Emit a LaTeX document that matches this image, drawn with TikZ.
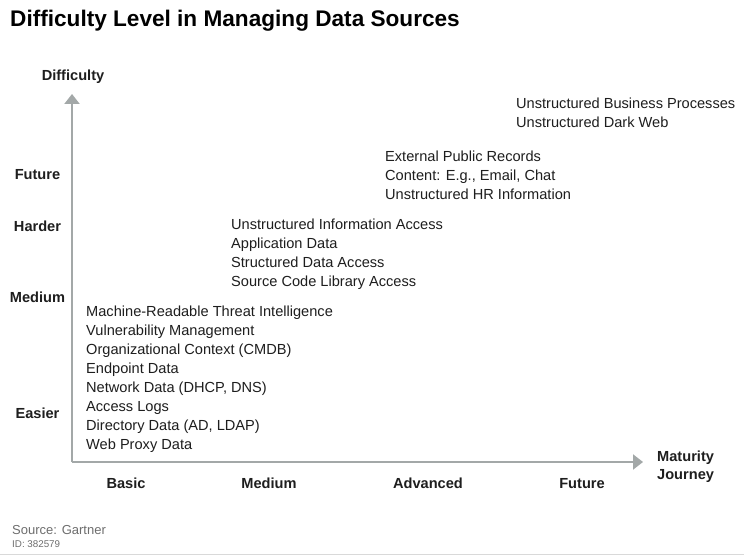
\documentclass[tikz,border=0pt]{standalone}
\usepackage{fontspec}
\setmainfont{Liberation Sans}
\usetikzlibrary{arrows.meta}
\definecolor{axisgray}{HTML}{A3A8A8}
\definecolor{txt}{HTML}{1E1E1E}
\definecolor{srcgray}{HTML}{6E6E6E}
\definecolor{rulegray}{HTML}{D9D9D9}
\begin{document}
\begin{tikzpicture}[x=1pt,y=-1pt,
  body/.style={font=\fontsize{14.6}{19}\selectfont, text=txt, inner sep=0pt, align=left, anchor=west},
  axlab/.style={font=\fontsize{14.6}{18}\selectfont\bfseries, text=txt, inner sep=0pt},
  axisline/.style={draw=axisgray, line width=2pt, -{Triangle[width=15pt,length=10pt]}}]
\useasboundingbox (0,0) rectangle (744,556);
\fill[white] (0,0) rectangle (744,556);
\draw[rulegray, line width=1.5pt] (0,554.5) -- (744,554.5);

\node[font=\fontsize{22.6}{26}\selectfont\bfseries, text=black, inner sep=0pt, anchor=west] (title) at (10,20.5) {Difficulty Level in Managing Data Sources};

\coordinate (origin) at (72,462);
\coordinate (ytip) at (72,94);
\coordinate (xtip) at (643,462);
\draw[axisline] (origin) -- (ytip);
\draw[axisline] (origin) -- (xtip);

\node[axlab] (ytitle) at (73,77) {Difficulty};
\node[axlab, align=left, anchor=west] (xtitle) at (657,466.5) {Maturity\\[0.5pt]Journey};

\node[axlab] (yfuture) at (37.5,175) {Future};
\node[axlab] (yharder) at (37.5,226) {Harder};
\node[axlab] (ymedium) at (37.5,297) {Medium};
\node[axlab] (yeasier) at (37.5,413) {Easier};

\node[axlab] (xbasic) at (126,483.5) {Basic};
\node[axlab] (xmedium) at (269,483.5) {Medium};
\node[axlab] (xadvanced) at (428,483.5) {Advanced};
\node[axlab] (xfuture) at (582,483.5) {Future};

\node[body] (blockA) at (86,379.5) {Machine-Readable Threat Intelligence\\
Vulnerability Management\\
Organizational Context (CMDB)\\
Endpoint Data\\
Network Data (DHCP, DNS)\\
Access Logs\\
Directory Data (AD, LDAP)\\
Web Proxy Data};

\node[body] (blockB) at (231,254.5) {Unstructured Information Access\\
Application Data\\
Structured Data Access\\
Source Code Library Access};

\node[body] (blockC) at (385,175.5) {External Public Records\\
Content: E.g., Email, Chat\\
Unstructured HR Information};

\node[body] (blockD) at (516,113) {Unstructured Business Processes\\
Unstructured Dark Web};

\node[font=\fontsize{13}{15}\selectfont, text=srcgray, inner sep=0pt, anchor=west] (source) at (12,530) {Source: Gartner};
\node[font=\fontsize{9.8}{12}\selectfont, text=srcgray, inner sep=0pt, anchor=west] (docid) at (12,544.5) {ID: 382579};
\end{tikzpicture}
\end{document}
